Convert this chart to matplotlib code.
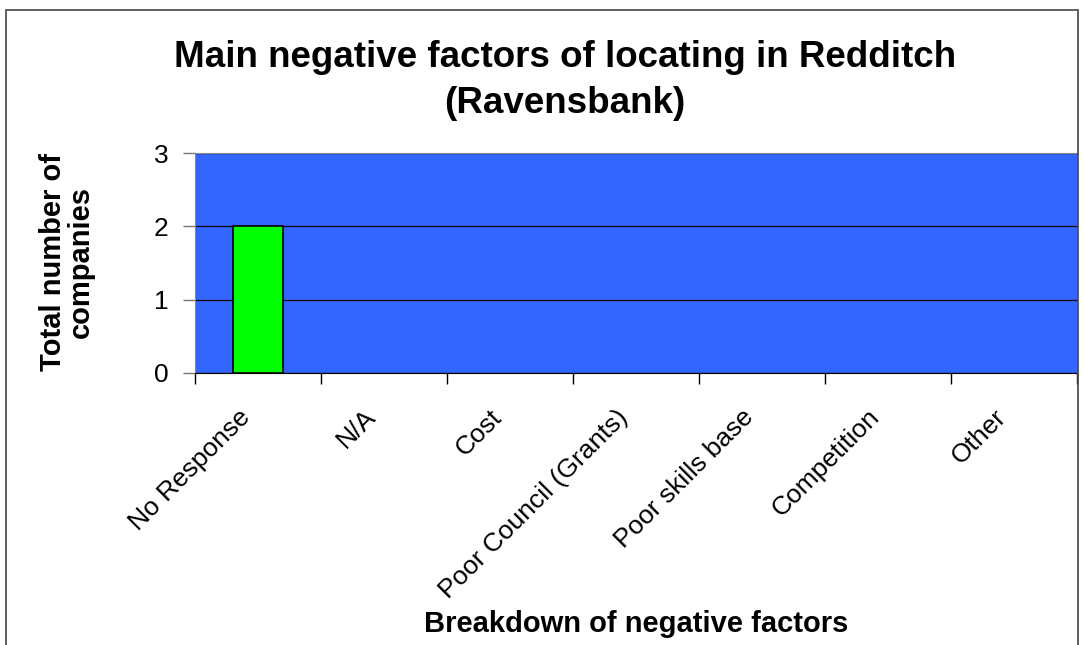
import matplotlib.pyplot as plt
import numpy as np
from matplotlib.patches import Rectangle
from matplotlib.transforms import ScaledTranslation

categories = ["No Response", "N/A", "Cost", "Poor Council (Grants)",
              "Poor skills base", "Competition", "Other"]
counts = [2, 0, 0, 0, 0, 0, 0]
y_ticks = [0, 1, 2, 3]

plt.rcParams['font.family'] = ['Liberation Sans', 'DejaVu Sans']

fig = plt.figure(figsize=(10.84, 6.45), dpi=100)
# thin outer frame like the source chart
fig.patches.append(Rectangle((6 / 1084, -0.01), 1072 / 1084, 1 - 10 / 645 + 0.01,
                             transform=fig.transFigure, fill=False,
                             edgecolor="#444444", linewidth=1.2))

ax = fig.add_axes([195 / 1084, 1 - 373 / 645, 882 / 1084, 220 / 645])
ax.set_facecolor("#3366FF")

x = np.arange(len(categories))
bars = ax.bar(x, counts, width=0.4, color="#00FF00", edgecolor="black", linewidth=1.2, zorder=3)
for b, v in zip(bars, counts):
    if v == 0:
        b.set_visible(False)

ax.set_xlim(-0.5, len(categories) - 0.5)
ax.set_ylim(0, 3)
ax.set_yticks(y_ticks)
ax.yaxis.grid(True, color="black", linewidth=0.9, zorder=1)
ax.set_axisbelow(True)

# ticks at category boundaries, labels at centres
ax.set_xticks(np.arange(-0.5, len(categories), 1.0))
ax.set_xticklabels([])
ax.set_xticks(x, minor=True)
ax.set_xticklabels(categories, minor=True, rotation=45, ha="right", va="center",
                   rotation_mode="anchor", fontsize=19)
ax.tick_params(axis="x", which="minor", length=0, pad=29)
ax.tick_params(axis="x", which="major", length=8, width=1, direction="out")
ax.tick_params(axis="y", length=9, width=1, direction="out", labelsize=19, pad=10,
               color="#777777")
shift = ScaledTranslation(-12 / 100, 0, fig.dpi_scale_trans)
for lbl in ax.get_xticklabels(minor=True):
    lbl.set_transform(lbl.get_transform() + shift)

for s in ["top", "right", "left"]:
    ax.spines[s].set_color("#888888")
ax.spines["bottom"].set_color("black")

fig.text(565 / 1084, 1 - 67 / 645, "Main negative factors of locating in Redditch",
         ha="center", va="baseline", fontsize=26.5, fontweight="bold")
fig.text(565 / 1084, 1 - 113 / 645, "(Ravensbank)",
         ha="center", va="baseline", fontsize=26.5, fontweight="bold")
fig.text(67 / 1084, 1 - 262 / 645, "Total number of\ncompanies", rotation=90,
         ha="center", va="center", fontsize=21, fontweight="bold", linespacing=1.0)
fig.text(636 / 1084, 1 - 632 / 645, "Breakdown of negative factors",
         ha="center", va="baseline", fontsize=21, fontweight="bold")

fig.savefig("out.png", dpi=100, facecolor="white")
